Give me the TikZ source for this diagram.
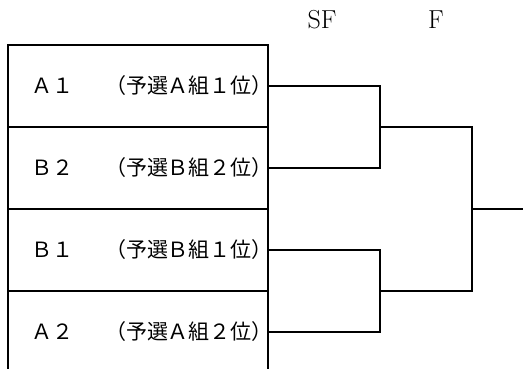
\documentclass[tikz,border=0pt]{standalone}
\usepackage{fontspec}
\newfontfamily\cjk{Noto Sans CJK JP}
\tikzset{
  slot/.style={draw, line width=1.3pt, minimum width=260pt, minimum height=82pt, inner sep=0pt},
  seed/.style={font=\cjk\fontsize{21}{24}\selectfont, inner sep=0pt},
  stage/.style={font=\fontsize{26}{30}\selectfont, inner sep=0pt},
  wire/.style={line width=1.3pt}
}
\begin{document}
\begin{tikzpicture}[x=1pt, y=-1pt]
\useasboundingbox (0,0) rectangle (523,368);
\clip (0,0) rectangle (523,368);
\node [slot] (a1) at (138,86) {};
\node [slot] (b2) at (138,168) {};
\node [slot] (b1) at (138,250) {};
\node [slot] (a2) at (138,332) {};
\node [seed] at (52,86) {Ａ１};
\node [seed] at (189,86) {（予選Ａ組１位）};
\node [seed] at (52,168) {Ｂ２};
\node [seed] at (189,168) {（予選Ｂ組２位）};
\node [seed] at (52,250) {Ｂ１};
\node [seed] at (189,250) {（予選Ｂ組１位）};
\node [seed] at (52,332) {Ａ２};
\node [seed] at (189,332) {（予選Ａ組２位）};
\node [stage] (sf) at (322,20) {SF};
\node [stage] (fl) at (436,20) {F};
\coordinate (semi1) at (380,127);
\coordinate (semi2) at (380,291);
\coordinate (final) at (472,209);
\coordinate (champ) at (523,209);
\draw [wire] (a1.east) -| (semi1) |- (b2.east);
\draw [wire] (b1.east) -| (semi2) |- (a2.east);
\draw [wire] (semi1) -| (final) |- (semi2);
\draw [wire] (final) -- (champ);
\end{tikzpicture}
\end{document}
